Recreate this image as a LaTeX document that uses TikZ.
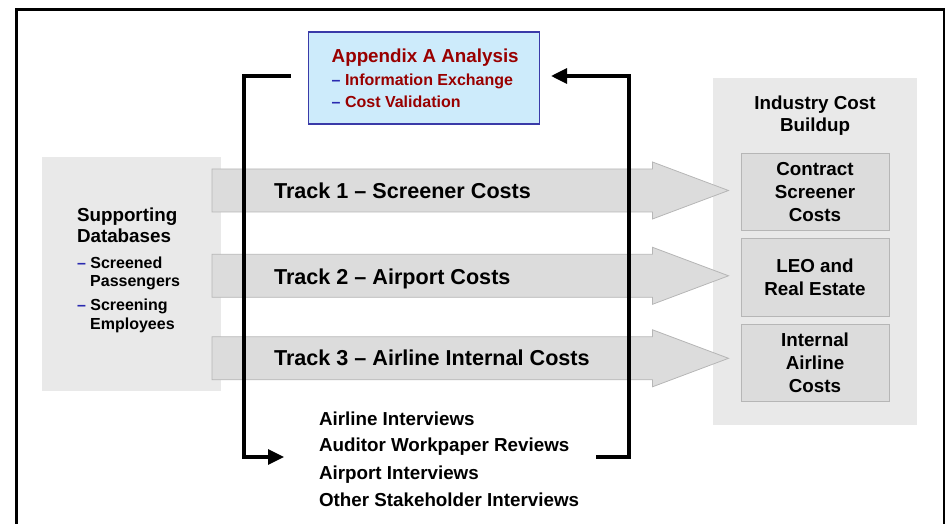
\documentclass[tikz,border=0pt]{standalone}
\usepackage{fontspec}
\setmainfont{Liberation Sans}
\usetikzlibrary{arrows.meta,calc}
\definecolor{boxgrey}{HTML}{E9E9E9}
\definecolor{arrgrey}{HTML}{DCDCDC}
\definecolor{edgegrey}{HTML}{B6B6B6}
\definecolor{appfill}{HTML}{CDEBFB}
\definecolor{appedge}{HTML}{3A3AA8}
\definecolor{darkred}{HTML}{990000}
\definecolor{dashblue}{HTML}{2A2AB0}
\newcommand{\fsz}[2]{\fontsize{#1}{#2}\selectfont\bfseries}
\begin{document}
\begin{tikzpicture}[x=1pt,y=-1pt,
  panel/.style={fill=boxgrey, draw=none, inner sep=0pt, outer sep=0pt},
  costbox/.style={fill=arrgrey, draw=edgegrey, line width=0.8pt, inner sep=0pt, outer sep=0pt,
    minimum width=148pt, minimum height=77.4pt, align=center, font=\fsz{18.8}{22.8}},
  appbox/.style={fill=appfill, draw=appedge, line width=1.1pt, inner sep=0pt, outer sep=0pt},
  blockarrow/.style={fill=arrgrey, draw=edgegrey, line width=0.8pt, line join=miter},
  loopline/.style={line width=3.2pt, line join=miter},
  tip/.style={-{Triangle[length=16pt,width=15pt]}},
  lbl/.style={inner sep=0pt, outer sep=0pt, anchor=base west},
  clbl/.style={inner sep=0pt, outer sep=0pt, anchor=base},
  head/.style={font=\fsz{18.8}{22}},
  item/.style={font=\fsz{16}{20}},
  track/.style={font=\fsz{21.6}{26}},
]
\useasboundingbox (0,0) rectangle (946,524);

% outer frame
\draw[line width=2.6pt, line join=miter] (16.2,524) -- (16.2,9.4) -- (944,9.4) -- (944,524);

% panels
\node[panel, minimum width=178.7pt, minimum height=234pt] (db) at (131.3,273.7) {};
\node[panel, minimum width=204pt, minimum height=347pt] (ind) at (814.9,251.5) {};

% cost boxes
\node[costbox] (c1) at (815,192) {Contract\\Screener\\Costs};
\node[costbox] (c2) at (815,277.3) {LEO and\\Real Estate};
\node[costbox] (c3) at (815,362.6) {Internal\\Airline\\Costs};

% block arrows
\foreach \c in {190.5,275.8,358.3}{
  \path[blockarrow] (212,\c-21.5) -- (652.5,\c-21.5) -- (652.5,\c-28.5) -- (728.5,\c)
     -- (652.5,\c+28.5) -- (652.5,\c+21.5) -- (212,\c+21.5) -- cycle;
}

% appendix box
\node[appbox, minimum width=230.3pt, minimum height=92pt] (app) at (423.9,78) {};

% loop lines
\coordinate (L0) at ($(app.west)+(-18,-2)$);
\coordinate (L1) at (244,457);
\coordinate (L2) at (284,457);
\coordinate (R0) at (596,457);
\coordinate (R1) at (629,76);
\coordinate (R2) at ($(app.east)+(12,-2)$);
\draw[loopline, tip] (L0) -| (L1) -- (L2);
\draw[loopline, tip] (R0) -| (R1) -- (R2);

% appendix text
\node[lbl, head, text=darkred] (appt) at (331.7,63) {Appendix A Analysis};
\node[lbl, item, text=darkred] (app1) at (331.7,86) {\textcolor{dashblue}{–} Information Exchange};
\node[lbl, item, text=darkred] (app2) at (331.7,108) {\textcolor{dashblue}{–} Cost Validation};

% supporting databases text
\node[lbl, head] (db1) at (77,221.7) {Supporting};
\node[lbl, head] (db2) at (77,243) {Databases};
\node[lbl, item] (db3) at (77,268) {\textcolor{dashblue}{–} Screened};
\node[lbl, item] (db4) at (90.2,286.7) {Passengers};
\node[lbl, item] (db5) at (77,310.7) {\textcolor{dashblue}{–} Screening};
\node[lbl, item] (db6) at (90.2,329) {Employees};

% industry heading
\node[clbl, head] (ind1) at (815,110) {Industry Cost};
\node[clbl, head] (ind2) at (815,131.7) {Buildup};

% track labels
\node[lbl, track] (t1) at (274,198.5) {Track 1 – Screener Costs};
\node[lbl, track] (t2) at (274,284.3) {Track 2 – Airport Costs};
\node[lbl, track] (t3) at (274,365.5) {Track 3 – Airline Internal Costs};

% sources list
\node[lbl, head] (s1) at (319,425) {Airline Interviews};
\node[lbl, head] (s2) at (319,451.7) {Auditor Workpaper Reviews};
\node[lbl, head] (s3) at (319,479) {Airport Interviews};
\node[lbl, head] (s4) at (319,506) {Other Stakeholder Interviews};
\end{tikzpicture}
\end{document}
